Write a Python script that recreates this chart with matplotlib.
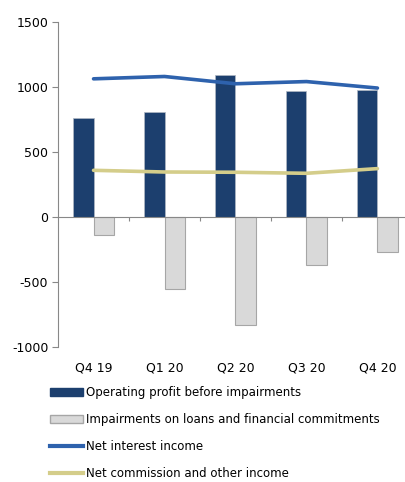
import matplotlib.pyplot as plt
import matplotlib.patches as mpatches
import matplotlib.lines as mlines
import matplotlib.transforms as mtransforms
import numpy as np

plt.rcParams["axes.unicode_minus"] = False

# Quarterly figures
quarters = ["Q4 19", "Q1 20", "Q2 20", "Q3 20", "Q4 20"]
operating_profit = [766, 806, 1095, 972, 975]
impairments = [-140, -557, -832, -370, -270]
net_interest = [1064, 1082, 1026, 1043, 993]
net_commission = [360, 347, 345, 337, 373]

navy = "#1c3f6e"
grey = "#d9d9d9"
blue = "#2e62ad"
khaki = "#d4cd8a"

fig = plt.figure(figsize=(4.06, 4.82), dpi=100)
ax = fig.add_axes([0.143, 0.280, 0.874, 0.674])

x = np.arange(len(quarters))
w = 0.29
ax.bar(x - w / 2, operating_profit, width=w, color=navy, edgecolor="#b0b8c4", linewidth=0.5)
ax.bar(x + w / 2, impairments, width=w, color=grey, edgecolor="#a6a6a6", linewidth=0.8)
ax.plot(x, net_interest, color=blue, lw=2.6, solid_capstyle="round")
ax.plot(x, net_commission, color=khaki, lw=2.6, solid_capstyle="round")

ax.set_xlim(-0.5, len(quarters) - 0.5)
ax.set_ylim(-1000, 1500)
ax.set_yticks(np.arange(-1000, 1501, 500))
ax.tick_params(axis="y", direction="out", length=4, width=0.8, color="#888888",
               labelsize=9, pad=3)

# x axis line sits on zero, ticks between categories
for s in ["top", "right"]:
    ax.spines[s].set_visible(False)
ax.spines["left"].set_color("#888888")
ax.spines["bottom"].set_position(("data", 0))
ax.spines["bottom"].set_color("#888888")
ax.set_xticks(x[:-1] + 0.5)
ax.set_xticklabels([])
ax.tick_params(axis="x", direction="out", length=3, width=0.8, color="#888888")

trans = mtransforms.blended_transform_factory(ax.transData, ax.transAxes)
for xi, q in zip(x, quarters):
    ax.text(xi, -0.045, q, transform=trans, ha="center", va="top", fontsize=9)

handles = [
    mpatches.Patch(facecolor=navy, edgecolor=navy, label="Operating profit before impairments"),
    mpatches.Patch(facecolor=grey, edgecolor="#a6a6a6", label="Impairments on loans and financial commitments"),
    mlines.Line2D([], [], color=blue, lw=3, label="Net interest income"),
    mlines.Line2D([], [], color=khaki, lw=3, label="Net commission and other income"),
]
fig.legend(handles=handles, loc="upper left", bbox_to_anchor=(0.112, 0.208),
           frameon=False, fontsize=8.5, handlelength=2.8, handletextpad=0.25,
           labelspacing=1.18, borderaxespad=0)

fig.savefig("out.png", dpi=100)
